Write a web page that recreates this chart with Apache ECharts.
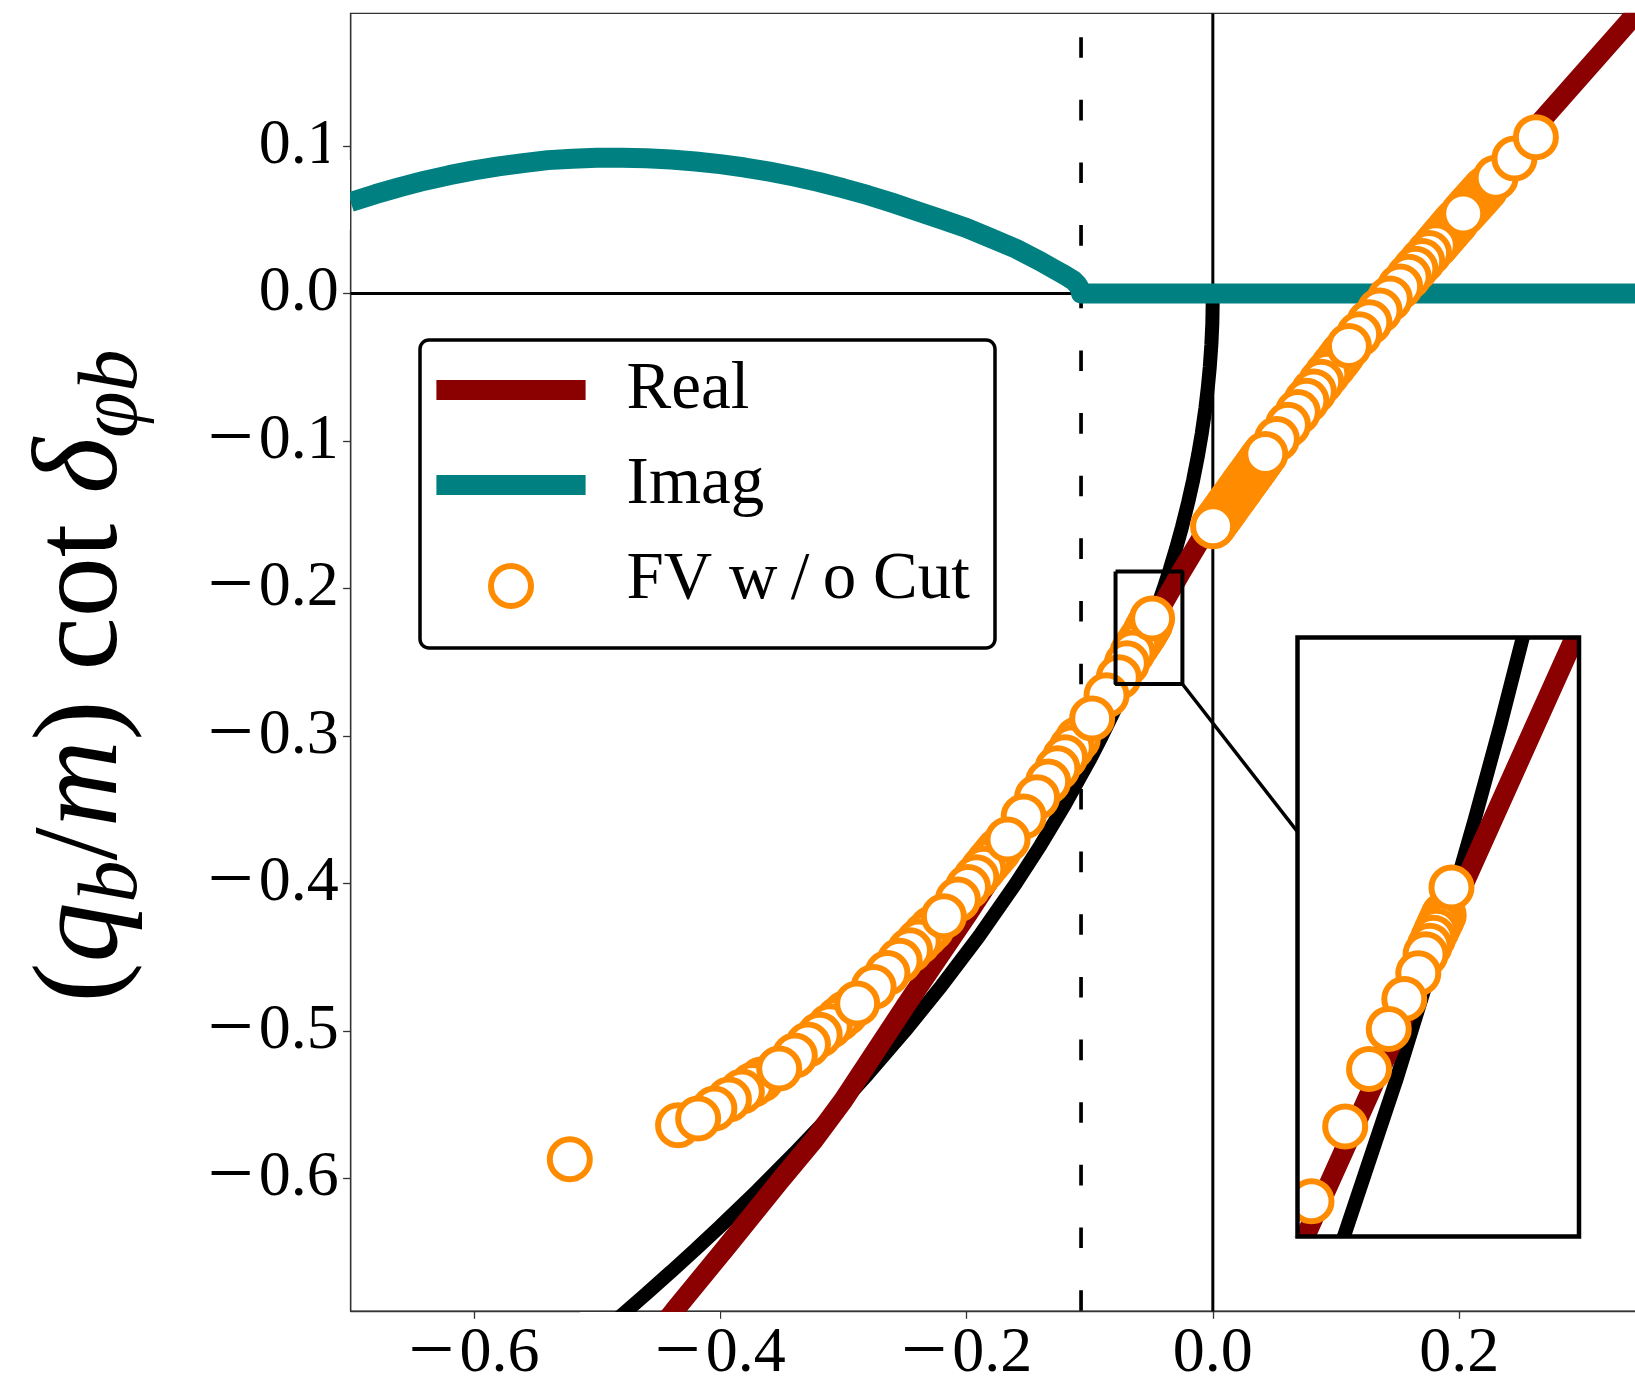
<!DOCTYPE html>
<html><head><meta charset="utf-8">
<script src="https://cdn.jsdelivr.net/npm/echarts@6/dist/echarts.min.js"></script>
<style>html,body{margin:0;padding:0;background:#fff;}#chart{width:1635px;height:1381px;}</style>
</head><body><div id="chart"></div>
<script>
// ---------- data ----------
const xTicks = [-0.6, -0.4, -0.2, 0.0, 0.2];
const yTicks = [-0.6, -0.5, -0.4, -0.3, -0.2, -0.1, 0.0, 0.1];

// black bound-state curve
const boundCurve = [[-0.50,-0.7071],[-0.48,-0.6928],[-0.46,-0.6782],[-0.44,-0.6633],[-0.42,-0.6481],[-0.40,-0.6325],
 [-0.37,-0.6083],[-0.34,-0.5831],[-0.31,-0.5568],[-0.28,-0.5292],[-0.25,-0.5],[-0.22,-0.4690],[-0.19,-0.4359],
 [-0.16,-0.4],[-0.14,-0.3742],[-0.12,-0.3464],[-0.10,-0.3162],[-0.09,-0.3],[-0.08,-0.2828],[-0.07,-0.2646],
 [-0.06,-0.2449],[-0.05,-0.2236],[-0.045,-0.2121],[-0.04,-0.2],[-0.035,-0.1871],[-0.03,-0.1732],[-0.025,-0.1581],
 [-0.02,-0.1414],[-0.016,-0.1265],[-0.012,-0.1095],[-0.009,-0.0949],[-0.006,-0.0775],[-0.004,-0.0632],
 [-0.0025,-0.05],[-0.0012,-0.0346],[-0.0004,-0.02],[0,0]];

// Real part
const realCurve = [[-0.46,-0.713],[-0.4376,-0.69],[-0.397,-0.6486],[-0.35,-0.600],[-0.324,-0.574],[-0.30,-0.547],
 [-0.2501,-0.4837],[-0.20,-0.422],[-0.15,-0.358],[-0.107,-0.300],[-0.0775,-0.2647],[-0.05,-0.2244],
 [-0.0256,-0.1886],[0.0,-0.153],[0.05,-0.100],[0.10,-0.048],[0.15,0.003],[0.20,0.053],[0.2684,0.1189],
 [0.3377,0.1843],[0.36,0.205]];

// Imaginary part
const imagCurve = [[-0.70,0.0621],[-0.68,0.0674],[-0.66,0.0722],[-0.64,0.0766],[-0.62,0.0803],[-0.60,0.0836],
 [-0.58,0.0863],[-0.56,0.0885],[-0.54,0.0905],[-0.52,0.0915],[-0.50,0.0921],[-0.48,0.0922],[-0.46,0.0918],
 [-0.44,0.0909],[-0.42,0.0896],[-0.40,0.0878],[-0.38,0.0855],[-0.36,0.0827],[-0.34,0.0794],[-0.32,0.0757],
 [-0.30,0.0714],[-0.28,0.0667],[-0.26,0.0615],[-0.24,0.0559],[-0.22,0.0502],[-0.20,0.0445],[-0.18,0.0375],
 [-0.16,0.0305],[-0.14,0.0219],[-0.13,0.0171],[-0.12,0.0124],[-0.113,0.0088],[-0.110,0.0062],[-0.108,0.0035],
 [-0.107,0],[0.36,0]];

// finite-volume points (draw order as in reference)
const fvPoints = [
 [-0.5221,-0.5869],[-0.4342,-0.5639],
 [-0.3666,-0.5329],[-0.3738,-0.5366],[-0.3824,-0.5410],[-0.3929,-0.5464],[-0.4047,-0.5525],[-0.4179,-0.5593],
 [-0.2983,-0.4880],[-0.3040,-0.4920],[-0.3110,-0.4968],[-0.3192,-0.5025],[-0.3287,-0.5091],[-0.3394,-0.5166],[-0.3521,-0.5254],
 [-0.2283,-0.4305],[-0.2332,-0.4346],[-0.2388,-0.4394],[-0.2459,-0.4453],[-0.2543,-0.4524],[-0.2642,-0.4607],[-0.2754,-0.4702],[-0.2888,-0.4814],
 [-0.1739,-0.3775],[-0.1776,-0.3811],[-0.1817,-0.3853],[-0.1863,-0.3900],[-0.1920,-0.3957],[-0.1988,-0.4024],[-0.2070,-0.4108],[-0.2184,-0.4222],
 [-0.1097,-0.3021],[-0.1145,-0.3078],[-0.1200,-0.3144],[-0.1262,-0.3218],[-0.1337,-0.3308],[-0.1427,-0.3415],[-0.1536,-0.3546],[-0.1667,-0.3702],
 [-0.0508,-0.2238],[-0.0512,-0.2244],[-0.0517,-0.2251],[-0.0522,-0.2258],[-0.0528,-0.2267],[-0.0535,-0.2277],[-0.0543,-0.2288],
 [-0.0557,-0.2312],[-0.0584,-0.2345],[-0.0614,-0.2383],[-0.0652,-0.2434],[-0.0698,-0.2507],[-0.0763,-0.2602],[-0.0863,-0.2723],[-0.0980,-0.2881],
 [-0.0493,-0.2203],
 [0.040,-0.1117],[0.038,-0.1140],[0.036,-0.1164],[0.034,-0.1187],[0.032,-0.1210],[0.030,-0.1233],[0.028,-0.1256],[0.026,-0.1279],
 [0.024,-0.1302],[0.022,-0.1326],[0.020,-0.1349],[0.018,-0.1372],[0.016,-0.1395],[0.014,-0.1418],[0.012,-0.1441],[0.010,-0.1465],
 [0.008,-0.1488],[0.006,-0.1511],[0.004,-0.1534],[0.002,-0.1557],[0.0002,-0.1578],
 [0.105,-0.0415],[0.102,-0.0448],[0.098,-0.0491],[0.093,-0.0544],[0.088,-0.0598],[0.082,-0.0663],[0.076,-0.0727],[0.069,-0.0803],
 [0.061,-0.0889],[0.052,-0.0986],[0.0426,-0.1087],
 [0.198,0.0492],[0.1965,0.0477],[0.1945,0.0458],[0.1925,0.0439],[0.19,0.0414],[0.1875,0.0390],[0.1845,0.0361],[0.1811,0.0328],
 [0.1756,0.0275],[0.1700,0.0221],[0.1645,0.0168],[0.1590,0.0114],[0.1521,0.0048],[0.1437,-0.0034],[0.1354,-0.0114],[0.1271,-0.0194],
 [0.1188,-0.0275],[0.1105,-0.0355],
 [0.2215,0.0712],[0.2195,0.0694],[0.2175,0.0675],[0.2155,0.0656],[0.2135,0.0638],[0.2115,0.0619],[0.2095,0.0601],[0.2075,0.0582],
 [0.2055,0.0563],[0.2033,0.0543],
 [0.2296,0.0785],[0.2449,0.0916],[0.2623,0.1061]
];

// reference lines and inset window
const cutX = -0.107;
const xRange = [-0.7, 0.35];
const yRange = [-0.69, 0.19];
const insetX = [-0.079, -0.0247];
const insetY = [-0.2647, -0.1885];
const connector = [[-0.0247,-0.2647],[0.09,-0.3877]];

// ---------- chart ----------
const chart = echarts.init(document.getElementById('chart'), null, {renderer:'canvas'});
const FONT = 'Liberation Serif';
function fmt(v){
  const s = Math.abs(v).toFixed(1);
  return v < -1e-9 ? '{m|\u2212}{d|' + s + '}' : '{d|' + s + '}';
}
const tickRich = {
  m:{fontFamily:FONT, fontSize:82, lineHeight:64, padding:[0,5,0,0], color:'#000'},
  d:{fontFamily:FONT, fontSize:64, lineHeight:64, color:'#000'}
};

const insetBox = [[insetX[0],insetY[1]],[insetX[1],insetY[1]],[insetX[1],insetY[0]],[insetX[0],insetY[0]],[insetX[0],insetY[1]]];

const lineBase = {type:'line', symbol:'none', silent:true, animation:false};

// layout frames (pixels)
const MAIN = {x:350.7, y:13.4, w:1293.2, h:1297.8};
const IN = {x:1297.5, y:637.5, w:281.5, h:599};

const option = {
  animation:false,
  backgroundColor:'#fff',
  grid:[
    {left:MAIN.x, top:MAIN.y, width:MAIN.w, height:MAIN.h, outerBoundsMode:'none', containLabel:false,
     show:true, borderColor:'#333', borderWidth:1.3, backgroundColor:'transparent'},
    {left:IN.x, top:IN.y, width:IN.w, height:IN.h, outerBoundsMode:'none', containLabel:false,
     show:true, backgroundColor:'#fff', borderWidth:0, z:10}
  ],
  xAxis:[
    {type:'value', gridIndex:0, min:xRange[0], max:xRange[1],
     axisLine:{show:true, onZero:false, lineStyle:{color:'#333', width:1.3}},
     axisTick:{show:true, inside:false, length:7.6, customValues:xTicks, lineStyle:{color:'#333', width:1.3}},
     axisLabel:{customValues:xTicks, formatter:fmt, rich:tickRich, fontFamily:FONT, fontSize:64, color:'#000', margin:11},
     splitLine:{show:false}},
    {type:'value', gridIndex:1, min:insetX[0], max:insetX[1], show:false}
  ],
  yAxis:[
    {type:'value', gridIndex:0, min:yRange[0], max:yRange[1],
     axisLine:{show:true, onZero:false, lineStyle:{color:'#333', width:1.3}},
     axisTick:{show:true, inside:false, length:7.6, customValues:yTicks, lineStyle:{color:'#333', width:1.3}},
     axisLabel:{customValues:yTicks, formatter:fmt, rich:tickRich, fontFamily:FONT, fontSize:64, color:'#000', margin:12},
     splitLine:{show:false}},
    {type:'value', gridIndex:1, min:insetY[0], max:insetY[1], show:false}
  ],
  series:[
    Object.assign({}, lineBase, {name:'zeroH', z:1, data:[[xRange[0],0],[xRange[1],0]], lineStyle:{color:'#000', width:3}}),
    Object.assign({}, lineBase, {name:'zeroV', z:1, data:[[0,yRange[1]],[0,yRange[0]]], lineStyle:{color:'#000', width:3}}),
    Object.assign({}, lineBase, {name:'cut', z:1, data:[[cutX,0.20],[cutX,-0.70]], lineStyle:{color:'#000', width:3.7, type:[20.6,42.05], dashOffset:24.15}}),
    Object.assign({}, lineBase, {name:'bound', z:2, data:boundCurve, lineStyle:{color:'#000', width:14}}),
    Object.assign({}, lineBase, {name:'Real', z:3, data:realCurve, lineStyle:{color:'#8B0000', width:20}}),
    Object.assign({}, lineBase, {name:'Imag', z:4, data:imagCurve, lineStyle:{color:'#008080', width:20, join:'round', cap:'butt'}}),
    {name:'FV w/o Cut', type:'scatter', z:5, silent:true, animation:false, data:fvPoints, symbol:'circle', symbolSize:40,
     itemStyle:{color:'#fff', borderColor:'#FF8C00', borderWidth:6, opacity:1}},
    Object.assign({}, lineBase, {name:'box', z:6, data:insetBox, lineStyle:{color:'#000', width:4}}),
    Object.assign({}, lineBase, {name:'connector', z:6, data:connector, lineStyle:{color:'#000', width:3.5}}),
    // inset
    Object.assign({}, lineBase, {name:'boundInset', xAxisIndex:1, yAxisIndex:1, z:11, data:boundCurve, clip:true, lineStyle:{color:'#000', width:14}}),
    Object.assign({}, lineBase, {name:'RealInset', xAxisIndex:1, yAxisIndex:1, z:12, data:realCurve, clip:true, lineStyle:{color:'#8B0000', width:20}}),
    {name:'FVInset', type:'scatter', xAxisIndex:1, yAxisIndex:1, z:13, clip:true, silent:true, animation:false, data:fvPoints,
     symbol:'circle', symbolSize:40, itemStyle:{color:'#fff', borderColor:'#FF8C00', borderWidth:6, opacity:1}}
  ],
  graphic:[
    // white margins trimming thick strokes that overflow the main frame
    {type:'rect', z:15, silent:true, shape:{x:580, y:MAIN.y+MAIN.h+0.7, width:140, height:14}, style:{fill:'#fff'}},
    {type:'rect', z:15, silent:true, shape:{x:1440, y:0, width:200, height:MAIN.y-0.7}, style:{fill:'#fff'}},
    {type:'rect', z:15, silent:true, shape:{x:MAIN.x-22, y:160, width:21.3, height:70}, style:{fill:'#fff'}},
    // white margins trimming the thick inset strokes at the inset frame
    {type:'rect', z:15, silent:true, shape:{x:IN.x-30, y:IN.y-30, width:IN.w+60, height:30}, style:{fill:'#fff'}},
    {type:'rect', z:15, silent:true, shape:{x:IN.x-30, y:IN.y+IN.h, width:IN.w+60, height:30}, style:{fill:'#fff'}},
    {type:'rect', z:15, silent:true, shape:{x:IN.x-30, y:IN.y+IN.h-90, width:30, height:90}, style:{fill:'#fff'}},
    {type:'rect', z:15, silent:true, shape:{x:IN.x+IN.w, y:IN.y-30, width:30, height:IN.h+60}, style:{fill:'#fff'}},
    {type:'rect', z:20, silent:true, shape:{x:IN.x, y:IN.y, width:IN.w, height:IN.h}, style:{fill:'none', stroke:'#000', lineWidth:4.5}},
    // legend
    {type:'rect', z:30, silent:true, shape:{x:420, y:340, width:575, height:308, r:9}, style:{fill:'#fff', stroke:'#000', lineWidth:3.5}},
    {type:'line', z:31, silent:true, shape:{x1:436.4, y1:390, x2:585.6, y2:390}, style:{stroke:'#8B0000', lineWidth:20}},
    {type:'line', z:31, silent:true, shape:{x1:436.4, y1:485, x2:585.6, y2:485}, style:{stroke:'#008080', lineWidth:20}},
    {type:'circle', z:31, silent:true, shape:{cx:511, cy:586, r:20}, style:{fill:'#fff', stroke:'#FF8C00', lineWidth:6}},
    {type:'text', z:31, silent:true, x:626.6, y:390, style:{text:'Real', fontFamily:FONT, fontSize:67, fill:'#000', align:'left', verticalAlign:'middle'}},
    {type:'text', z:31, silent:true, x:626.6, y:485.5, style:{text:'Imag', fontFamily:FONT, fontSize:67, fill:'#000', align:'left', verticalAlign:'middle'}},
    {type:'text', z:31, silent:true, x:626.6, y:580.5, style:{text:'FV w\u2009/\u2009o Cut', fontFamily:FONT, fontSize:67, fill:'#000', align:'left', verticalAlign:'middle'}},
    // y-axis title
    {type:'text', z:31, silent:true, x:84, y:676, rotation:Math.PI/2,
     style:{
       text:'{n|(}{i|q}{s|b}{n|/}{i|m}{n|) cot }{i|\u03B4}{s|\u03C6b}',
       align:'center', verticalAlign:'middle', fill:'#000',
       rich:{
         n:{fontFamily:FONT, fontSize:120, lineHeight:144, fill:'#000'},
         i:{fontFamily:FONT, fontStyle:'italic', fontSize:120, lineHeight:144, fill:'#000'},
         s:{fontFamily:FONT, fontStyle:'italic', fontSize:84, lineHeight:84, verticalAlign:'bottom', fill:'#000'}
       }
     }}
  ]
};
chart.setOption(option);
</script></body></html>
